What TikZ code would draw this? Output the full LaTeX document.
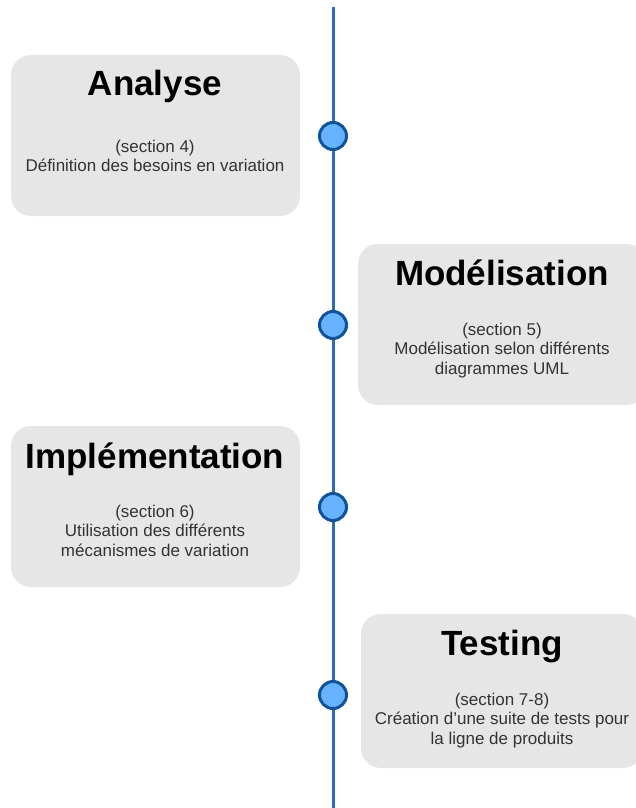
\documentclass[tikz,border=0pt]{standalone}
\usepackage{fontspec}
\setmainfont{Liberation Sans}
\definecolor{boxgray}{HTML}{E6E6E6}
\definecolor{linebl}{HTML}{2E6DB4}
\definecolor{dotfill}{HTML}{66B2FF}
\definecolor{dotdraw}{HTML}{10529A}
\definecolor{bodytxt}{HTML}{333333}
\begin{document}
\begin{tikzpicture}[x=1pt,y=-1pt,
  card/.style={fill=boxgray, rounded corners=20pt, inner sep=0pt},
  ttl/.style={font=\fontsize{35}{40}\selectfont\bfseries, text=black, anchor=base, inner sep=0pt},
  bodytext/.style={font=\fontsize{17}{19.5}\selectfont, text=bodytxt, align=center, anchor=base, inner sep=0pt},
  dot/.style={circle, fill=dotfill, draw=dotdraw, line width=3pt, minimum size=27pt, inner sep=0pt},
  timeline/.style={draw=linebl, line width=3pt},
  ]
\useasboundingbox (0,0) rectangle (636,808);
\clip (0,0) rectangle (636,808);

% timeline
\coordinate (ltop) at (333,7);
\coordinate (lbot) at (333,812);
\draw[timeline] (ltop) -- (lbot);

% cards
\node[card, minimum width=289pt, minimum height=161pt] (c1) at (155.5,135.5) {};
\node[card, minimum width=288pt, minimum height=161pt] (c2) at (502,324.5) {};
\node[card, minimum width=289pt, minimum height=161pt] (c3) at (155.5,506.5) {};
\node[card, minimum width=282pt, minimum height=154pt] (c4) at (502,691) {};

% titles
\node[ttl] (t1) at (155,95) {Analyse};
\node[ttl] (t2) at (502,285) {Modélisation};
\node[ttl] (t3) at (155,468) {Implémentation};
\node[ttl] (t4) at (502,655) {Testing};

% bodies (anchor = baseline of last line)
\node[bodytext] (b1) at (155,171.5) {(section 4)\\Définition des besoins en variation};
\node[bodytext] (b2) at (502,374) {(section 5)\\Modélisation selon différents\\diagrammes UML};
\node[bodytext] (b3) at (155,556) {(section 6)\\Utilisation des différents\\mécanismes de variation};
\node[bodytext] (b4) at (502,744) {(section 7-8)\\Création d'une suite de tests pour\\la ligne de produits};

% dots
\node[dot] (d1) at (333,136) {};
\node[dot] (d2) at (333,325) {};
\node[dot] (d3) at (333,507) {};
\node[dot] (d4) at (333,695) {};
\end{tikzpicture}
\end{document}
